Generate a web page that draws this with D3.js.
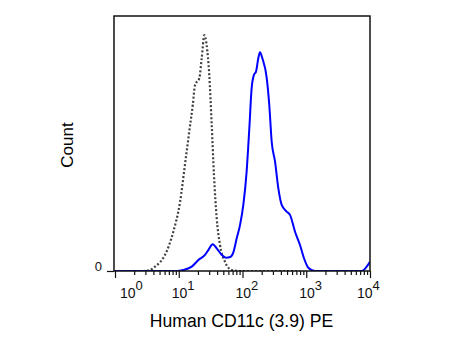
<!DOCTYPE html>
<html>
<head>
<meta charset="utf-8">
<script src="https://cdn.jsdelivr.net/npm/d3@7"></script>
<style>
  html, body { margin: 0; padding: 0; background: #fff; }
  svg { display: block; font-family: Arial, "Liberation Sans", sans-serif; }
</style>
</head>
<body>
<svg id="chart" width="467" height="350"></svg>
<script>
// ---- data ----
// Isotype control (gray dotted): fluorescence intensity and relative count (% of axis height)
const isotypeX = [2.75, 3.54, 4.24, 6.08, 8.22, 10.5, 12.5, 14.6, 16.6, 18.0, 21.0, 22.9, 25.2, 27.4, 30.1, 32.9, 35.7, 39.4, 44.4, 53.1, 67.8, 91.4, 798];
const isotypeY = [0, 0.4, 1.7, 6.3, 15.4, 27.2, 41.6, 54.6, 65.1, 72.9, 75.6, 83.4, 92.5, 88.6, 76.9, 57.3, 37.6, 20.7, 10.2, 3.6, 0.4, 0, 0];
// CD11c (3.9) PE stained (blue)
const stainedX = [1, 9.29, 11.8, 16.0, 20.3, 25.8, 29.1, 34.1, 39.4, 47.2, 55.1, 65.3, 72.3, 81.1, 91.4, 103, 116, 128, 139, 151, 163, 177, 188, 205, 240, 263, 287, 324, 365, 412, 493, 556, 667, 798, 922, 1077, 1371, 7413, 8872, 10000];
const stainedY = [0, 0, 0.4, 1.7, 4.3, 6.3, 8.2, 10.5, 8.9, 6.3, 5.2, 5.6, 7.5, 12.8, 18.0, 25.9, 38.9, 56.0, 71.6, 76.9, 78.2, 83.4, 85.8, 83.4, 75.6, 65.1, 50.7, 42.9, 32.4, 25.9, 23.3, 22.0, 15.4, 10.2, 5.0, 1.3, 0, 0, 1.7, 3.6];
// Axis labels
const decadeExponents = [0, 1, 2, 3, 4];
const yTickLabels = ["0"];
const xTitle = "Human CD11c (3.9) PE";
const yTitle = "Count";

// ---- layout ----
const svg = d3.select("#chart");
const frame = { left: 114, right: 370, top: 16, bottom: 271 };

const x = d3.scaleLog().domain([1, 10000]).range([frame.left + 1, frame.right]);
const y = d3.scaleLinear().domain([0, 100]).range([frame.bottom, frame.top]);

svg.append("clipPath").attr("id", "plotclip")
  .append("rect")
  .attr("x", frame.left).attr("y", frame.top - 2)
  .attr("width", frame.right - frame.left).attr("height", frame.bottom - frame.top + 2);

const line = d3.line()
  .x(d => x(d[0]))
  .y(d => y(d[1]))
  .curve(d3.curveMonotoneX);

const plot = svg.append("g").attr("clip-path", "url(#plotclip)");

plot.append("path")
  .datum(isotypeX.map((v, i) => [v, isotypeY[i]]))
  .attr("d", line)
  .attr("fill", "none")
  .attr("stroke", "#404040")
  .attr("stroke-width", 2.2)
  .attr("stroke-dasharray", "2,2");

plot.append("path")
  .datum(stainedX.map((v, i) => [v, stainedY[i]]))
  .attr("d", line)
  .attr("fill", "none")
  .attr("stroke", "#0000ff")
  .attr("stroke-width", 2)
  .attr("stroke-linejoin", "round");

// frame
svg.append("rect")
  .attr("x", frame.left).attr("y", frame.top)
  .attr("width", frame.right - frame.left).attr("height", frame.bottom - frame.top)
  .attr("fill", "none")
  .attr("stroke", "#111")
  .attr("stroke-width", 1.5);

// x axis ticks (major + minor)
const majorTicks = decadeExponents.map(e => Math.pow(10, e));
const minorTicks = [];
for (let e = 0; e < 4; e++) for (let m = 2; m <= 9; m++) minorTicks.push(m * Math.pow(10, e));

const xAxisMajor = d3.axisBottom(x).tickValues(majorTicks).tickSize(7).tickFormat("");
const xAxisMinor = d3.axisBottom(x).tickValues(minorTicks).tickSize(4).tickFormat("");
const gMaj = svg.append("g").attr("transform", `translate(0,${frame.bottom})`).call(xAxisMajor);
const gMin = svg.append("g").attr("transform", `translate(0,${frame.bottom})`).call(xAxisMinor);
[gMaj, gMin].forEach(g => {
  g.select(".domain").remove();
  g.selectAll("line").attr("stroke", "#111").attr("stroke-width", 1.2);
});

// x tick labels: 10 with superscript exponent
decadeExponents.forEach((e, i) => {
  const tx = x(Math.pow(10, e));
  let startX = tx - 7;
  if (i === 0) startX = tx + 5;
  if (i === decadeExponents.length - 1) startX = tx - 13;
  const t = svg.append("text")
    .attr("x", startX)
    .attr("y", 298)
    .attr("font-size", 14)
    .attr("fill", "#111");
  t.append("tspan").text("10");
  t.append("tspan").attr("dy", -8).attr("font-size", 13).text(String(e));
});

// y axis: only "0"
const yAxis = d3.axisLeft(y).tickValues([0]).tickSize(7).tickFormat((d, i) => yTickLabels[i]);
const gy = svg.append("g").attr("transform", `translate(${frame.left},0)`).call(yAxis);
gy.select(".domain").remove();
gy.selectAll("line").attr("stroke", "#111").attr("stroke-width", 1.2);
gy.selectAll("text")
  .attr("font-family", "Arial, 'Liberation Sans', sans-serif")
  .attr("font-size", 13).attr("fill", "#111")
  .attr("x", -12).attr("dy", "-0.05em");

// titles
svg.append("text")
  .attr("x", 241.5).attr("y", 327)
  .attr("text-anchor", "middle")
  .attr("font-size", 17.6)
  .attr("fill", "#000")
  .text(xTitle);

svg.append("text")
  .attr("transform", "translate(73,145) rotate(-90)")
  .attr("text-anchor", "middle")
  .attr("font-size", 17)
  .attr("fill", "#000")
  .text(yTitle);
</script>
</body>
</html>
